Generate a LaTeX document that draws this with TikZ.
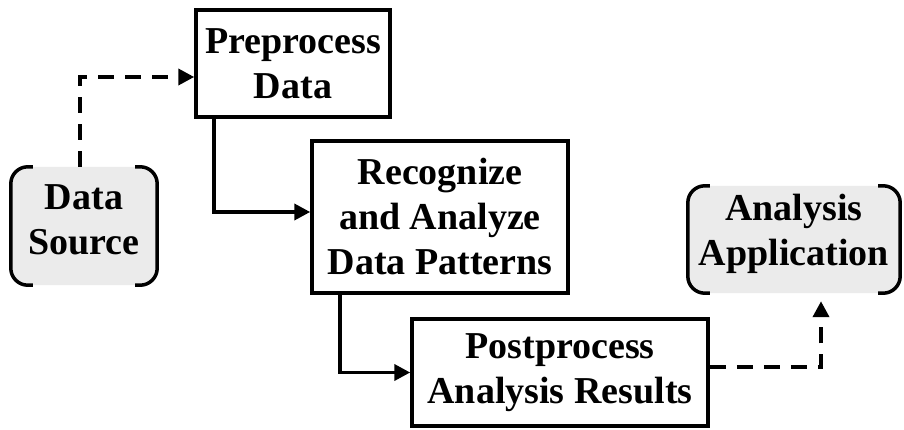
\documentclass[tikz,border=0pt]{standalone}
\usepackage{fontspec}
\setmainfont{Liberation Serif}
\usetikzlibrary{arrows.meta,calc}

\begin{document}
\begin{tikzpicture}[x=1pt,y=-1pt,
  every node/.style={font=\bfseries\fontsize{38}{45}\selectfont, align=center, inner sep=0pt},
  procbox/.style={draw=black, line width=3.5pt, fill=white},
  termbox/.style={fill=black!8, rounded corners=17pt},
  termtext/.style={label={[yshift=6pt]center:{#1}}},
  bracket/.style={line width=3.5pt, rounded corners=17pt},
  flow/.style={line width=3.8pt, -{Triangle[length=16pt,width=16pt]}},
  dflow/.style={flow, dash pattern=on 16pt off 11pt}
]
\useasboundingbox (0,0) rectangle (904,430);

% terminal nodes (data source and consumer), text sits slightly high
\node[termbox, minimum width=146, minimum height=118, termtext={Data\\Source}] (ds) at (84,226) {};
\node[termbox, minimum width=212, minimum height=107, termtext={Analysis\\Application}] (app) at (794,239.5) {};

% bracket outlines on the left and right sides of the terminal nodes
\foreach \n in {ds,app}{
  \draw[bracket] ($(\n.north west)+(22,0)$) -- (\n.north west) -- (\n.south west) -- ($(\n.south west)+(22,0)$);
  \draw[bracket] ($(\n.north east)+(-22,0)$) -- (\n.north east) -- (\n.south east) -- ($(\n.south east)+(-22,0)$);
}

% processing steps
\node[procbox, minimum width=194, minimum height=107] (pre) at (293,63.5) {Preprocess\\Data};
\node[procbox, minimum width=256, minimum height=152] (rec) at (440,217) {Recognize\\and Analyze\\Data Patterns};
\node[procbox, minimum width=296, minimum height=107] (post) at (560,372.5) {Postprocess\\Analysis Results};

% connectors
\draw[dflow] (ds.north -| 80,0) |- ([yshift=-13.5pt]pre.west);
\draw[flow] (pre.south -| 214,0) |- ([yshift=5pt]rec.west);
\draw[flow] (rec.south -| 340,0) |- (post.west);
\draw[dflow, shorten >=8pt] ([yshift=5.5pt]post.east) -| (app.south -| 821,0);
\end{tikzpicture}
\end{document}
